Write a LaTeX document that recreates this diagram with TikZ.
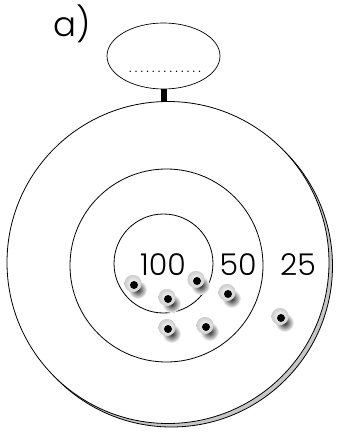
\documentclass[tikz,border=0pt]{standalone}
\usepackage{fontspec}
\setmainfont{Poppins}
\newfontfamily\lightfont{Poppins Light}
\usetikzlibrary{shapes.geometric}
\tikzset{
  ring/.style={circle, draw, line width=0.8pt, inner sep=0pt},
  lbl/.style={font=\lightfont\fontsize{30}{30}\selectfont, inner sep=0pt, text=black},
  hole/.pic={
    \shade[inner color=black!85, outer color=white] (3.5,4.5) circle (9.5);
    \shade[inner color=white, outer color=black!20] (-1,-1.5) circle (8.6);
    \fill[black] (0,0) circle (4);
  }
}
\begin{document}
\begin{tikzpicture}[x=1pt,y=-1pt]
\useasboundingbox (0,0) rectangle (338,434);
% label
\node[font=\lightfont\fontsize{34}{34}\selectfont, inner sep=0pt] (lab) at (72.5,24) {a)};
% bubble
\node[ellipse, draw, line width=0.7pt, minimum width=113pt, minimum height=66pt, inner sep=0pt] (bubble) at (163.5,56) {};
\node[font=\fontsize{12}{12}\selectfont\addfontfeature{LetterSpace=27}, inner sep=0pt] (dots) at (165,72) {.............};
% outer target with shadow
\node[ring, fill=black!22, minimum size=322pt] (outershadow) at (171.5,266) {};
\node[ring, fill=white, minimum size=322pt] (outer) at (168,262.5) {};
\node[ring, minimum size=193pt] (middle) at (166.5,265.5) {};
\node[ring, minimum size=99pt] (inner) at (163.5,263.5) {};
% stem
\draw[line width=6pt] (bubble.south) -- ([yshift=-1pt]bubble.south |- outer.north);
% scores
\node[lbl] (s100) at (163,265) {100};
\node[lbl] (s50) at (238,265) {50};
\node[lbl] (s25) at (298,265) {25};
% holes
\pic at (134,285) {hole};
\pic at (197,281) {hole};
\pic at (168,299) {hole};
\pic at (228,294) {hole};
\pic at (168,329) {hole};
\pic at (206,327) {hole};
\pic at (281,318) {hole};
\end{tikzpicture}
\end{document}
